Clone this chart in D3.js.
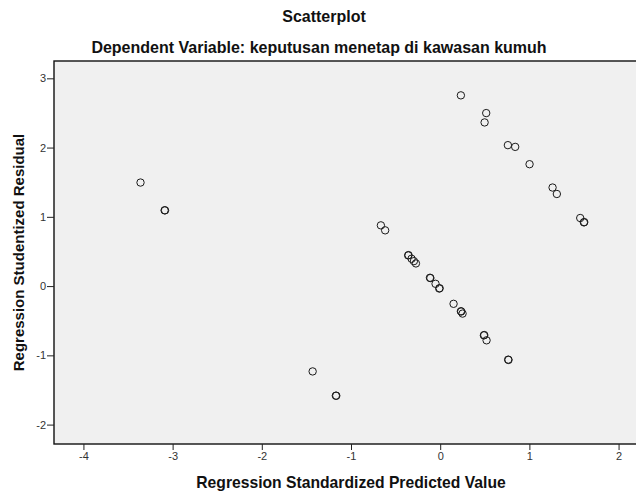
<!DOCTYPE html>
<html>
<head>
<meta charset="utf-8">
<script src="https://cdn.jsdelivr.net/npm/d3@7"></script>
<style>
  body { margin: 0; background: #fff; }
  text { font-family: "Liberation Sans", Arial, sans-serif; }
</style>
</head>
<body>
<div id="chart"></div>
<script>
// predicted values (x) and studentized residuals (y)
const predicted = [
  -3.36, -3.09, -3.085, -1.43, -1.17, -1.165,
  -0.665, -0.617, -0.359, -0.355, -0.321, -0.295, -0.272,
  -0.115, -0.11, -0.052, -0.011, -0.006, 0.150, 0.232, 0.236, 0.251,
  0.490, 0.494, 0.520, 0.762, 0.766,
  0.232, 0.516, 0.498, 0.759, 0.841, 1.002, 1.260, 1.308, 1.570, 1.611, 1.615
];
const residual = [
  1.495, 1.094, 1.094, -1.232, -1.583, -1.583,
  0.877, 0.805, 0.443, 0.447, 0.395, 0.360, 0.327,
  0.120, 0.116, 0.033, -0.035, -0.031, -0.256, -0.363, -0.367, -0.397,
  -0.711, -0.707, -0.783, -1.062, -1.066,
  2.754, 2.498, 2.363, 2.035, 2.010, 1.760, 1.423, 1.330, 0.983, 0.920, 0.924
];
const xTicks = [-4, -3, -2, -1, 0, 1, 2];
const yTicks = [-2, -1, 0, 1, 2, 3];

const title = 'Scatterplot';
const subtitle = 'Dependent Variable: keputusan menetap di kawasan kumuh';
const xTitle = 'Regression Standardized Predicted Value';
const yTitle = 'Regression Studentized Residual';

const width = 636;
const height = 492;
const plot = { left: 54, top: 61, right: 648, bottom: 444 };

const svg = d3.select('#chart')
  .append('svg')
  .attr('width', width)
  .attr('height', height);

// scales, domain chosen so ticks land where SPSS put them
const x = d3.scaleLinear()
  .domain([-4.33, 2.33])
  .range([plot.left, plot.right]);
const y = d3.scaleLinear()
  .domain([-2.28, 3.25])
  .range([plot.bottom, plot.top]);

// plot background and frame (right side runs off the picture)
svg.append('rect')
  .attr('x', plot.left)
  .attr('y', plot.top)
  .attr('width', plot.right - plot.left)
  .attr('height', plot.bottom - plot.top)
  .attr('fill', '#f0f0f0')
  .attr('stroke', '#111')
  .attr('stroke-width', 1.4);

// axes, plain hyphen for negatives like SPSS
const fmt = d => String(d);
const axisX = d3.axisBottom(x).tickValues(xTicks).tickSize(6).tickPadding(2).tickFormat(fmt);
const gx = svg.append('g')
  .attr('transform', `translate(0, ${plot.bottom})`)
  .call(axisX);

const axisY = d3.axisLeft(y).tickValues(yTicks).tickSize(7).tickPadding(1).tickFormat(fmt);
const gy = svg.append('g')
  .attr('transform', `translate(${plot.left}, 0)`)
  .call(axisY);

[gx, gy].forEach(g => {
  g.select('.domain').remove();
  g.selectAll('.tick line').attr('stroke', '#222').attr('stroke-width', 1);
  g.selectAll('.tick text')
    .attr('fill', '#333')
    .style('font-size', '11px')
    .style('font-family', '"Liberation Sans", Arial, sans-serif');
});

// points
svg.append('g')
  .selectAll('circle')
  .data(predicted.map((p, i) => [p, residual[i]]))
  .enter()
  .append('circle')
  .attr('cx', d => x(d[0]))
  .attr('cy', d => y(d[1]))
  .attr('r', 3.7)
  .attr('fill', 'none')
  .attr('stroke', '#1a1a1a')
  .attr('stroke-width', 1);

// titles
svg.append('text')
  .attr('x', 324)
  .attr('y', 22)
  .attr('text-anchor', 'middle')
  .style('font-size', '16px')
  .style('font-weight', 'bold')
  .attr('fill', '#111')
  .text(title);

svg.append('text')
  .attr('x', 319)
  .attr('y', 53)
  .attr('text-anchor', 'middle')
  .style('font-size', '16px')
  .style('font-weight', 'bold')
  .attr('fill', '#111')
  .text(subtitle);

svg.append('text')
  .attr('x', (plot.left + plot.right) / 2)
  .attr('y', 488)
  .attr('text-anchor', 'middle')
  .style('font-size', '15.7px')
  .style('font-weight', 'bold')
  .attr('fill', '#111')
  .text(xTitle);

svg.append('text')
  .attr('transform', 'rotate(-90)')
  .attr('x', -(plot.top + plot.bottom) / 2)
  .attr('y', 24)
  .attr('text-anchor', 'middle')
  .style('font-size', '15px')
  .style('font-weight', 'bold')
  .attr('fill', '#111')
  .text(yTitle);
</script>
</body>
</html>
